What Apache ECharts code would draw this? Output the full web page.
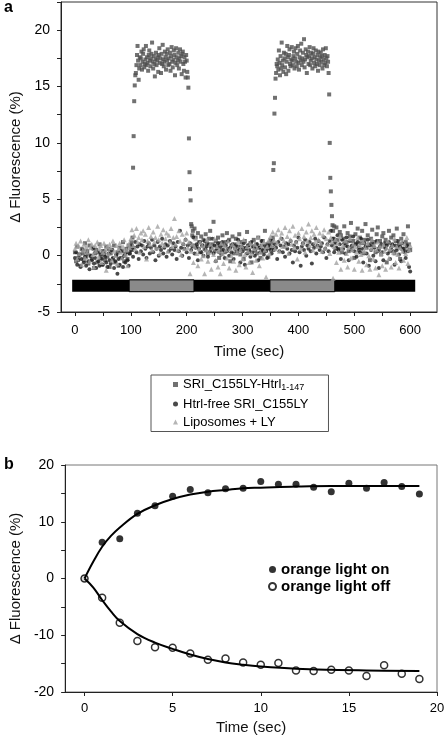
<!DOCTYPE html>
<html>
<head>
<meta charset="utf-8">
<script src="https://cdn.jsdelivr.net/npm/echarts@6/dist/echarts.min.js"></script>
<style>
html,body{margin:0;padding:0;background:#fff;}
#chart{width:448px;height:741px;}
</style>
</head>
<body>
<div id="chart"></div>
<script>
// ---------- Panel a data ----------
const seriesNamesA = ['SRI_C155LY-Htrl1-147', 'Htrl-free SRI_C155LY', 'Liposomes + LY'];

const timesS1 = [
0,2,4,6,8,10,12,14,16,18,20,22,24,26,28,30,32,34,36,38,40,42,44,46,48,50,52,54,56,58,60,62,64,66,68,70,72,74,76,78,80,82,84,86,88,90,92,94,96,98,
100,101,102,103,104,105,106,107,108,109,110,111,112,113,114,115,116,117,118,119,120,121,122,123,124,125,126,127,128,129,130,131,132,133,134,135,136,137,138,139,140,141,142,143,144,145,146,147,148,149,150,151,152,153,154,155,156,157,158,159,160,161,162,163,164,165,166,167,168,169,170,171,172,173,174,175,176,177,178,179,180,181,182,183,184,185,186,187,188,189,190,191,192,193,194,195,196,197,198,199,200,201,202,203,204,205,206,207,208,209,210,211,212,
214,216,218,220,222,224,226,228,230,232,234,236,238,240,242,244,246,248,250,252,254,256,258,260,262,264,266,268,270,272,274,276,278,280,282,284,286,288,290,292,294,296,298,300,302,304,306,308,310,312,314,316,318,320,322,324,326,328,330,332,334,336,338,340,342,344,346,348,
349,350,351,352,353,354,355,356,357,358,359,360,361,362,363,364,365,366,367,368,369,370,371,372,373,374,375,376,377,378,379,380,381,382,383,384,385,386,387,388,389,390,391,392,393,394,395,396,397,398,399,400,401,402,403,404,405,406,407,408,409,410,411,412,413,414,415,416,417,418,419,420,421,422,423,424,425,426,427,428,429,430,431,432,433,434,435,436,437,438,439,440,441,442,443,444,445,446,447,448,449,450,451,452,453,454,455,456,457,458,459,460,461,462,463,464,465,466,
468,470,472,474,476,478,480,482,484,486,488,490,492,494,496,498,500,502,504,506,508,510,512,514,516,518,520,522,524,526,528,530,532,534,536,538,540,542,544,546,548,550,552,554,556,558,560,562,564,566,568,570,572,574,576,578,580,582,584,586,588,590,592,594,596,598,600
];
const valuesS1 = [
0.3,-0.5,0.8,-0.2,0.1,-0.9,0.6,0.2,-0.4,1.1,
-0.1,0.4,-0.7,0.9,0.0,-0.3,0.7,-1.1,0.2,0.5,
-0.6,0.3,1.0,-0.2,-0.8,0.4,0.1,-0.4,0.8,-0.1,
0.6,-1.0,0.2,0.5,-0.3,0.9,-0.6,0.0,0.3,-0.9,
0.7,-0.2,0.4,1.2,-0.5,0.1,0.6,-0.3,0.9,0.2,
0.8,1.2,0.5,1.6,7.8,10.6,13.7,15.1,
16.0,16.2,16.9,17.8,18.6,17.3,15.6,16.6,17.6,16.9,
17.5,18.1,16.5,17.2,17.9,18.3,16.7,17.0,17.4,18.6,
16.9,17.6,17.1,16.4,17.8,18.2,17.3,16.8,17.5,17.9,
18.9,17.2,16.6,17.7,17.0,15.9,17.4,18.0,16.9,17.3,
17.6,16.3,17.8,18.4,17.1,17.5,16.2,17.9,17.0,18.7,
17.4,16.8,17.2,18.1,17.6,16.5,17.9,17.3,18.3,16.9,
17.5,17.0,18.0,16.4,17.7,18.5,17.2,16.7,17.4,18.2,
17.8,16.0,17.1,18.4,17.6,16.9,17.3,18.0,16.6,17.5,
18.3,17.2,17.7,16.1,17.9,18.1,17.0,16.4,17.6,17.2,
15.8,17.8,17.3,
16.3,15.8,14.9,10.4,7.4,5.9,4.9,2.8,2.6,1.8,2.2,0.9,
2.4,1.6,0.8,2.0,1.2,0.3,1.7,0.9,1.4,0.6,
1.9,1.1,0.2,1.5,2.2,0.7,1.0,3.0,0.4,1.3,
0.8,1.6,-0.2,1.1,0.5,1.8,0.9,0.3,1.2,2.0,
0.6,1.4,-0.5,0.9,1.7,0.2,1.0,1.5,0.4,0.8,
1.9,0.1,1.2,0.7,-0.3,1.3,0.6,2.1,0.9,0.3,
1.1,-0.6,0.8,1.4,0.5,1.0,0.2,1.6,0.7,-0.2,
0.9,1.3,0.4,2.2,0.6,1.0,-0.1,0.8,
0.9,1.4,0.5,1.1,0.7,1.6,7.6,8.2,12.6,14.0,15.7,
16.2,17.0,16.8,17.4,16.5,18.2,17.1,16.0,17.7,16.6,
18.9,16.9,17.3,16.3,18.0,17.5,16.7,17.9,16.1,17.2,
18.6,17.6,16.4,17.8,18.3,17.0,16.8,17.4,18.5,17.3,
16.9,17.7,18.1,16.6,17.5,18.4,17.2,16.8,17.9,18.6,
17.1,16.5,17.6,18.2,17.3,18.8,16.9,17.5,18.0,17.2,
19.2,16.7,17.4,18.3,17.8,16.2,17.6,18.1,17.0,17.7,
18.5,16.9,17.3,18.0,17.5,16.6,17.9,18.4,17.1,17.6,
16.8,18.2,17.4,17.0,17.8,16.4,18.1,17.3,16.9,17.6,
18.0,17.2,17.7,16.6,18.3,17.4,16.9,17.8,17.1,18.4,
17.5,16.8,17.7,17.2,
16.2,14.3,10.0,6.9,5.7,4.5,3.5,2.7,2.2,1.5,2.6,1.1,0.6,
2.5,1.4,0.6,2.1,1.8,0.3,1.5,2.6,0.9,1.2,
2.0,0.4,1.7,2.9,0.8,1.3,-0.2,1.9,1.0,2.4,
0.5,1.6,1.1,2.2,0.2,1.4,2.8,0.7,1.8,1.0,
-0.4,1.5,2.3,0.9,1.2,0.3,1.9,2.5,0.6,1.3,
0.1,1.7,2.0,0.8,1.4,-0.6,1.1,2.2,0.4,1.6,
0.9,1.8,0.2,1.3,2.4,0.7,1.0,-0.3,1.5,0.6,
1.9,0.4,1.2,0.8,2.6,1.0,0.5
];

const timesBase = [
0,2,4,6,8,10,12,14,16,18,20,22,24,26,28,30,32,34,36,38,40,42,44,46,48,50,52,54,56,58,60,62,64,66,68,70,72,74,76,78,80,82,84,86,88,90,92,94,96,98,
100,102,104,106,108,110,112,114,116,118,120,122,124,126,128,130,132,134,136,138,140,142,144,146,148,150,152,154,156,158,160,162,164,166,168,170,172,174,176,178,180,182,184,186,188,190,192,194,196,198,
200,202,204,206,208,210,212,214,216,218,220,222,224,226,228,230,232,234,236,238,240,242,244,246,248,250,252,254,256,258,260,262,264,266,268,270,272,274,276,278,280,282,284,286,288,290,292,294,296,298,
300,302,304,306,308,310,312,314,316,318,320,322,324,326,328,330,332,334,336,338,340,342,344,346,348,350,352,354,356,358,360,362,364,366,368,370,372,374,376,378,380,382,384,386,388,390,392,394,396,398,
400,402,404,406,408,410,412,414,416,418,420,422,424,426,428,430,432,434,436,438,440,442,444,446,448,450,452,454,456,458,460,462,464,466,468,470,472,474,476,478,480,482,484,486,488,490,492,494,496,498,
500,502,504,506,508,510,512,514,516,518,520,522,524,526,528,530,532,534,536,538,540,542,544,546,548,550,552,554,556,558,560,562,564,566,568,570,572,574,576,578,580,582,584,586,588,590,592,594,596,598,
600
];
const valuesS2 = [
-0.2,0.3,-0.8,-0.4,0.1,-1.0,-0.3,0.5,-0.6,-0.1,
-0.9,0.2,-0.5,-1.2,0.0,-0.4,0.6,-0.7,-0.2,-1.1,
0.3,-0.5,-0.9,0.1,-0.3,-0.8,0.4,-0.1,-0.6,-1.0,
0.2,-0.4,-0.7,0.5,-0.2,-1.1,-0.5,0.1,-1.6,-0.3,
-0.8,0.4,-0.2,-1.0,0.0,-0.6,0.3,-0.4,-0.9,0.2,
0.5,0.9,-0.1,0.7,1.2,0.3,0.8,-0.3,1.0,0.4,
0.9,0.1,1.3,0.6,-0.2,0.8,1.1,0.2,0.7,1.4,
0.3,0.9,-0.4,0.6,1.2,0.0,0.8,0.5,1.5,0.2,
0.7,1.0,-0.1,0.9,0.4,1.3,0.6,0.1,1.1,0.5,
0.8,-0.3,1.2,0.4,2.2,0.7,0.0,1.0,0.6,1.4,
0.3,0.9,-0.2,1.1,0.5,0.8,1.6,0.2,0.7,1.0,
-0.4,0.6,1.2,0.3,0.9,0.0,1.3,0.5,0.8,-0.1,
1.0,0.4,0.7,1.5,0.2,0.9,-0.5,0.6,1.1,0.3,
0.8,0.1,1.2,0.5,-0.2,0.9,0.4,1.3,0.0,0.7,
0.3,1.0,-0.3,0.6,0.9,0.2,1.4,0.5,-0.6,0.8,
0.4,1.1,-0.8,0.7,0.2,0.9,0.5,-0.1,1.2,0.3,
0.8,0.0,0.6,1.0,-0.4,0.7,0.3,1.3,0.5,0.1,
0.9,0.4,-0.2,1.1,0.6,0.8,0.2,1.4,0.5,1.0,
0.7,-0.3,1.2,0.4,0.9,1.5,0.3,0.8,-0.1,1.1,
0.6,1.0,0.2,1.3,0.5,-0.6,0.9,0.4,1.2,0.7,
1.6,0.3,-0.9,0.8,1.1,0.5,1.4,0.0,0.9,0.6,
1.2,0.4,-0.7,1.0,0.7,1.5,0.2,0.9,1.3,0.5,
0.8,1.1,0.3,1.6,0.6,-0.2,1.0,0.4,1.3,2.2,
0.9,1.5,0.3,1.2,0.7,1.8,0.5,1.0,-0.3,1.4,
0.6,1.1,0.2,1.6,0.8,-0.4,1.3,0.5,0.9,1.7,
0.4,1.0,-0.1,1.2,0.7,0.3,1.5,0.6,-0.6,1.1,
0.8,0.2,1.4,-0.9,0.9,0.5,1.2,0.0,0.7,-0.5,
1.3,0.4,-1.1,0.8,1.0,0.3,-0.4,1.1,0.6,0.9,
0.2,1.2,-0.3,0.7,1.0,0.4,-0.8,0.9,0.5,1.3,
0.1,0.8,-0.5,1.1,0.6,0.3,-0.2,0.9,0.4,-1.0,
-1.4
];
const valuesS3 = [
0.6,1.1,-0.3,0.9,0.2,1.3,-0.8,0.5,1.0,-0.2,
0.8,0.3,1.4,-0.5,0.7,1.0,0.1,-1.0,0.9,0.4,
1.2,-0.1,0.6,0.9,-0.6,0.3,1.1,0.5,-1.3,0.8,
0.2,1.0,0.7,-0.4,1.3,0.4,0.0,0.9,-0.7,0.6,
1.1,0.3,-0.2,0.8,1.4,0.1,0.5,-0.9,1.0,0.7,
1.5,2.3,0.9,1.8,0.6,2.4,1.2,1.6,0.3,2.0,
1.4,2.2,0.8,1.9,-0.3,1.3,2.5,1.0,1.7,0.5,
2.1,1.2,1.6,0.7,2.6,1.4,0.2,1.9,1.1,2.3,
0.9,1.5,2.0,0.4,1.8,1.2,2.4,0.8,1.6,3.3,
1.0,1.7,0.5,2.2,1.3,0.1,1.9,1.1,0.6,1.5,
2.0,0.7,1.2,-1.6,0.4,1.0,-0.6,0.8,1.5,0.2,
-0.9,0.6,1.2,-0.3,0.9,0.0,-1.6,0.5,1.4,-0.5,
0.3,1.0,-1.2,0.7,0.1,1.5,-0.4,0.8,-1.0,0.4,
-1.6,1.1,0.2,-0.7,0.9,0.5,-0.2,1.3,-1.1,0.6,
0.0,1.0,-0.5,0.7,-1.3,0.3,1.2,-0.8,0.5,0.9,
-0.3,1.4,0.1,-1.0,0.8,0.4,-0.6,1.1,0.2,-1.5,
0.6,1.0,-0.4,0.7,1.6,-0.9,0.3,0.9,-0.2,1.2,
0.5,-1.9,0.8,1.3,0.2,1.7,0.9,2.1,1.4,0.6,
1.9,1.1,2.3,0.4,1.6,2.0,0.8,1.3,2.5,0.9,
1.7,0.2,2.2,1.4,1.0,2.6,0.7,1.8,1.2,-0.3,
2.0,1.5,0.6,2.4,1.1,1.7,0.3,2.1,1.3,2.8,
0.9,1.6,2.2,0.5,1.9,1.2,2.5,0.8,1.4,2.0,
1.1,0.4,1.8,2.3,0.7,1.5,1.0,2.1,0.2,1.6,
1.2,-2.0,0.8,1.4,-0.6,1.1,0.3,1.7,-1.2,0.6,
0.9,-0.4,1.3,0.2,-1.0,0.7,1.5,-0.2,0.5,1.0,
-1.2,0.8,0.3,1.6,-0.5,0.9,0.1,-1.3,1.2,0.4,
0.7,-0.8,1.1,0.0,-1.2,0.6,1.4,-0.3,0.9,-1.1,
0.5,1.2,-1.7,0.8,0.2,-0.9,1.0,0.4,-1.2,0.7,
1.3,-0.2,0.6,-1.0,0.9,0.3,1.5,-0.6,0.8,0.1,
-1.1,0.7,1.2,0.4,-0.4,1.0,0.2,1.6,-0.7,0.5,
0.9
];

// Light protocol bar (time spans) and its vertical band
const barSpanA = [-5, 609];
const orangePeriodsA = [[97, 213], [349, 465]];
const barBandA = [-2.15, -3.2];

const tickXA = [0,50,100,150,200,250,300,350,400,450,500,550,600];
const labelXA = [0,100,200,300,400,500,600];

// ---------- Panel b data ----------
const seriesNamesB = ['orange light on', 'orange light off'];
const timesB = [0,1,2,3,4,5,6,7,8,9,10,11,12,13,14,15,16,17,18,19];
const onB  = [0,6.4,7.0,11.5,12.8,14.5,15.7,15.1,15.8,15.9,17.1,16.6,16.6,16.1,15.3,16.8,15.9,16.9,16.2,14.9];
const offB = [0,-3.4,-7.8,-11.0,-12.1,-12.2,-13.2,-14.3,-14.1,-14.8,-15.2,-14.9,-16.2,-16.3,-16.1,-16.2,-17.2,-15.3,-16.8,-17.7];
const fitTimesB = [0,0.5,1,1.5,2,3,4,5,6,7,8,9,10,12,14,16,19];
const fitOnB  = [0,3.0,5.6,7.5,9.0,11.4,12.9,14.0,14.8,15.3,15.6,15.9,16.0,16.2,16.3,16.3,16.3];
const fitOffB = [0,-1.6,-3.8,-5.8,-7.5,-9.8,-11.3,-12.4,-13.4,-14.2,-14.8,-15.2,-15.5,-15.9,-16.1,-16.2,-16.3];
const tickXB = [0,5,10,15,20];

// ---------- build ----------
const FONT = '"Liberation Sans", Arial, sans-serif';
const pair = (xs, ys) => xs.map((x, i) => [x, ys[i]]);

const chart = echarts.init(document.getElementById('chart'), null, {renderer: 'canvas'});

const axisBase = {
  axisLine: {show: true, onZero: false, lineStyle: {color: '#222', width: 1}},
  splitLine: {show: false},
  axisTick: {show: true, inside: false, length: 4, lineStyle: {color: '#222'}},
  nameTextStyle: {fontFamily: FONT, fontSize: 15, color: '#111'}
};

const markAreaData = [
  [{xAxis: barSpanA[0], yAxis: barBandA[0], itemStyle: {color: '#000', borderWidth: 0}},
   {xAxis: barSpanA[1], yAxis: barBandA[1]}]
].concat(orangePeriodsA.map(p => [
  {xAxis: p[0], yAxis: barBandA[0], itemStyle: {color: '#8a8a8a', borderColor: '#000', borderWidth: 1}},
  {xAxis: p[1], yAxis: barBandA[1]}
]));

const option = {
  animation: false,
  backgroundColor: '#fff',
  textStyle: {fontFamily: FONT},
  grid: [
    {left: 55, top: 2, right: 11, height: 310, show: true, borderColor: '#333', borderWidth: 1},
    {left: 54, top: 465, right: 11, height: 227, show: true, borderColor: '#777', borderWidth: 1}
  ],
  xAxis: [
    Object.assign({}, axisBase, {
      type: 'value', gridIndex: 0, min: -25, max: 648,
      axisTick: Object.assign({}, axisBase.axisTick, {customValues: tickXA}),
      axisLabel: {customValues: labelXA, fontSize: 13, color: '#000', margin: 12, fontFamily: FONT},
      name: 'Time (sec)', nameLocation: 'middle', nameGap: 32
    }),
    Object.assign({}, axisBase, {
      type: 'value', gridIndex: 1, min: -1.1, max: 20,
      axisTick: Object.assign({}, axisBase.axisTick, {customValues: tickXB}),
      axisLabel: {customValues: tickXB, fontSize: 13, color: '#000', margin: 10, fontFamily: FONT},
      name: 'Time (sec)', nameLocation: 'middle', nameGap: 28
    })
  ],
  yAxis: [
    Object.assign({}, axisBase, {
      type: 'value', gridIndex: 0, min: -5, max: 22.5, interval: 2.5,
      axisLabel: {fontSize: 14, color: '#000', margin: 11, fontFamily: FONT,
        formatter: v => (Math.abs(v % 5) < 1e-9 ? String(v) : '')},
      name: 'Δ Fluorescence (%)', nameLocation: 'middle', nameGap: 38
    }),
    Object.assign({}, axisBase, {
      type: 'value', gridIndex: 1, min: -20, max: 20, interval: 5,
      axisLabel: {fontSize: 14, color: '#000', margin: 11, fontFamily: FONT,
        formatter: v => (Math.abs(v % 10) < 1e-9 ? String(v) : '')},
      name: 'Δ Fluorescence (%)', nameLocation: 'middle', nameGap: 38
    })
  ],
  legend: [
    {
      data: seriesNamesA, orient: 'vertical', left: 151, top: 375,
      itemWidth: 5, itemHeight: 5, itemGap: 5,
      padding: [3, 20, 3, 22], borderColor: '#555', borderWidth: 1,
      textStyle: {fontFamily: FONT, fontSize: 13, color: '#000',
        rich: {
          n: {fontFamily: FONT, fontSize: 13, color: '#000'},
          s: {fontFamily: FONT, fontSize: 9, color: '#000', padding: [7, 0, 0, 0]}
        }},
      formatter: name => name === seriesNamesA[0] ? '{n|SRI_C155LY-Htrl}{s|1-147}' : name
    },
    {
      data: seriesNamesB, orient: 'vertical', left: 268, top: 562,
      itemWidth: 7, itemHeight: 7, itemGap: 2, padding: 0,
      textStyle: {fontFamily: FONT, fontSize: 15, fontWeight: 'bold', color: '#000'}
    }
  ],
  graphic: [
    {type: 'text', left: 4, top: 0, style: {text: 'a', font: 'bold 16px ' + FONT, fill: '#000'}},
    {type: 'text', left: 4, top: 457, style: {text: 'b', font: 'bold 16px ' + FONT, fill: '#000'}}
  ],
  series: [
    {
      type: 'line', name: 'lightbar', xAxisIndex: 0, yAxisIndex: 0, data: [], silent: true,
      markArea: {silent: true, data: markAreaData}
    },
    {
      type: 'scatter', name: seriesNamesA[0], xAxisIndex: 0, yAxisIndex: 0,
      symbol: 'rect', symbolSize: 4, itemStyle: {color: '#4d4d4d'},
      data: pair(timesS1, valuesS1)
    },
    {
      type: 'scatter', name: seriesNamesA[1], xAxisIndex: 0, yAxisIndex: 0,
      symbol: 'circle', symbolSize: 4, itemStyle: {color: '#1c1c1c'},
      data: pair(timesBase, valuesS2)
    },
    {
      type: 'scatter', name: seriesNamesA[2], xAxisIndex: 0, yAxisIndex: 0,
      symbol: 'triangle', symbolSize: 5, itemStyle: {color: '#a3a3a3'},
      data: pair(timesBase, valuesS3)
    },
    {
      type: 'line', name: 'fit on', xAxisIndex: 1, yAxisIndex: 1, smooth: 0.4,
      showSymbol: false, lineStyle: {color: '#000', width: 2},
      data: pair(fitTimesB, fitOnB)
    },
    {
      type: 'line', name: 'fit off', xAxisIndex: 1, yAxisIndex: 1, smooth: 0.4,
      showSymbol: false, lineStyle: {color: '#000', width: 2},
      data: pair(fitTimesB, fitOffB)
    },
    {
      type: 'scatter', name: seriesNamesB[0], xAxisIndex: 1, yAxisIndex: 1,
      symbol: 'circle', symbolSize: 7, itemStyle: {color: '#000'},
      data: pair(timesB, onB)
    },
    {
      type: 'scatter', name: seriesNamesB[1], xAxisIndex: 1, yAxisIndex: 1,
      symbol: 'circle', symbolSize: 7, itemStyle: {color: '#fff', borderColor: '#000', borderWidth: 1.5},
      data: pair(timesB, offB)
    }
  ]
};
chart.setOption(option);
</script>
</body>
</html>
